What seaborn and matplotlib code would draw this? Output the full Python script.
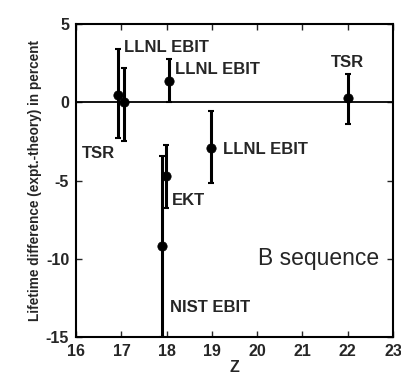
import matplotlib
matplotlib.use("Agg")
import matplotlib.pyplot as plt
import seaborn as sns
import numpy as np
import pandas as pd

# Data
Z = [16.93, 17.06, 18.05, 18.97, 17.99, 17.9, 22.0]
diff = [0.5, 0.0, 1.35, -2.9, -4.7, -9.2, 0.27]
err_low = [-2.3, -2.5, 0.0, -5.15, -6.75, -15.0, -1.36]
err_high = [3.4, 2.2, 2.8, -0.57, -2.75, -3.4, 1.8]
labels = ["LLNL EBIT", "LLNL EBIT", "TSR", "LLNL EBIT", "EKT", "NIST EBIT", "TSR"]
label_x = [17.05, 18.18, 16.13, 19.25, 18.12, 18.08, 22.0]
label_y = [3.5, 2.1, -3.3, -3.0, -6.3, -13.1, 2.55]
label_ha = ["left", "left", "left", "left", "left", "left", "center"]
x_ticks = [16, 17, 18, 19, 20, 21, 22, 23]
y_ticks = [5, 0, -5, -10, -15]

df = pd.DataFrame({"Z": Z, "diff": diff})

sns.set_theme(style="white")
plt.rcParams['font.family'] = ['Liberation Sans', 'DejaVu Sans']

fig = plt.figure(figsize=(4.01, 3.77), dpi=100)
ax = fig.add_axes([0.19, 0.106, 0.79, 0.83])

ax.axhline(0, color="black", lw=1.3, zorder=1)

yerr = np.array([np.array(diff) - np.array(err_low), np.array(err_high) - np.array(diff)])
ax.errorbar(Z, diff, yerr=yerr, fmt="none", ecolor="black", elinewidth=2.2,
            capsize=2.2, capthick=1.5, zorder=2)
sns.scatterplot(data=df, x="Z", y="diff", ax=ax, color="black", s=45,
                edgecolor="black", zorder=3, legend=False)

for t, lx, ly, ha in zip(labels, label_x, label_y, label_ha):
    ax.text(lx, ly, t, ha=ha, va="center", fontsize=12, fontweight="bold")

ax.text(20.02, -9.95, "B sequence", ha="left", va="center", fontsize=16.5)

ax.set_xlim(16, 23)
ax.set_ylim(-15, 5)
ax.set_xticks(x_ticks)
ax.set_yticks(y_ticks)
ax.set_xticklabels([str(v) for v in x_ticks], fontsize=11.5, fontweight="bold")
ax.set_yticklabels([str(v) for v in y_ticks], fontsize=11.5, fontweight="bold")
ax.set_xlabel("Z", fontsize=11.5, fontweight="bold", labelpad=1)
ax.set_ylabel("Lifetime difference (expt.-theory) in percent", fontsize=9.8,
              fontweight="bold", labelpad=3)
ax.tick_params(direction="in", length=4, width=1, top=True, right=True,
               bottom=True, left=True, pad=5)
for sp in ax.spines.values():
    sp.set_color("black")
    sp.set_linewidth(1.5)

fig.savefig("out.png", dpi=100)
